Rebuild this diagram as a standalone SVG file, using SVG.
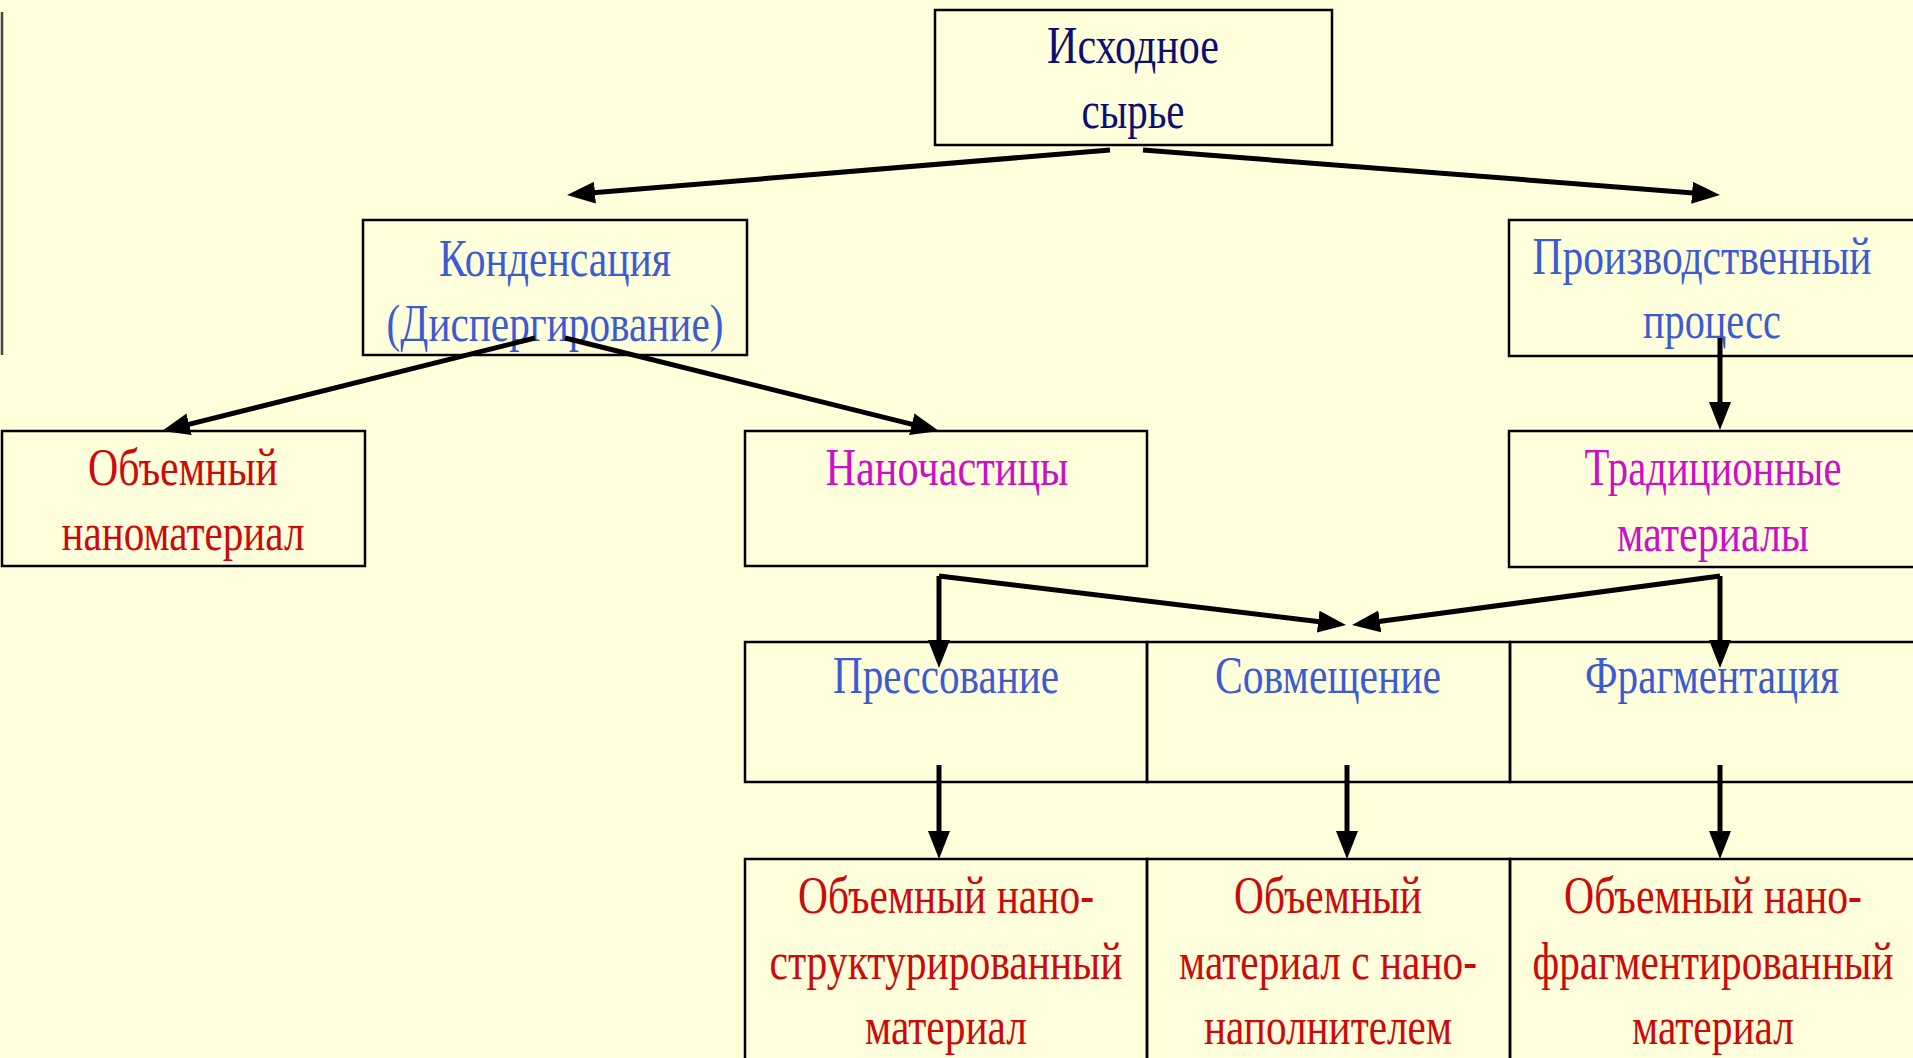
<svg xmlns="http://www.w3.org/2000/svg" width="1913" height="1058" viewBox="0 0 1913 1058">
<style>
.box{fill:none;stroke:#000;stroke-width:2.5}
.t{font-family:"Liberation Serif","Times New Roman",serif;font-size:52px;text-anchor:middle}
.navy{fill:#0d0d72}
.blue{fill:#3d5bd0}
.mag{fill:#cc10c8}
.red{fill:#cc0a0a}
.c{fill:none;stroke:#000;stroke-width:5}
</style>
<defs>
<marker id="ah" markerUnits="userSpaceOnUse" markerWidth="30" markerHeight="24" refX="14" refY="12" orient="auto">
<path d="M0,1 L28,12 L0,23 z" fill="#000"/>
</marker>
</defs>
<rect width="1913" height="1058" fill="#FFFFDC"/>
<line x1="2" y1="12" x2="2" y2="355" stroke="#444" stroke-width="2.5"/>

<g id="n-source">
<rect class="box" x="935" y="10" width="397" height="135"/>
<text class="t navy" x="1133" y="63" textLength="172" lengthAdjust="spacingAndGlyphs">Исходное</text>
<text class="t navy" x="1133" y="128" textLength="103" lengthAdjust="spacingAndGlyphs">сырье</text>
</g>
<g id="n-condensation">
<rect class="box" x="363" y="220" width="384" height="135"/>
<text class="t blue" x="555" y="276" textLength="232" lengthAdjust="spacingAndGlyphs">Конденсация</text>
<text class="t blue" x="555" y="341" textLength="337" lengthAdjust="spacingAndGlyphs">(Диспергирование)</text>
</g>
<g id="n-production">
<rect class="box" x="1509" y="220" width="420" height="136"/>
<text class="t blue" x="1702" y="274" textLength="339" lengthAdjust="spacingAndGlyphs">Производственный</text>
<text class="t blue" x="1712" y="338" textLength="138" lengthAdjust="spacingAndGlyphs">процесс</text>
</g>
<g id="n-bulk">
<rect class="box" x="2" y="431" width="363" height="135"/>
<text class="t red" x="183" y="485" textLength="190" lengthAdjust="spacingAndGlyphs">Объемный</text>
<text class="t red" x="183" y="550" textLength="243" lengthAdjust="spacingAndGlyphs">наноматериал</text>
</g>
<g id="n-nanoparticles">
<rect class="box" x="745" y="431" width="402" height="135"/>
<text class="t mag" x="947" y="485" textLength="243" lengthAdjust="spacingAndGlyphs">Наночастицы</text>
</g>
<g id="n-traditional">
<rect class="box" x="1509" y="431" width="420" height="136"/>
<text class="t mag" x="1713" y="485" textLength="257" lengthAdjust="spacingAndGlyphs">Традиционные</text>
<text class="t mag" x="1713" y="551" textLength="192" lengthAdjust="spacingAndGlyphs">материалы</text>
</g>
<g id="n-pressing">
<rect class="box" x="745" y="642" width="402" height="140"/>
<text class="t blue" x="946" y="693" textLength="226" lengthAdjust="spacingAndGlyphs">Прессование</text>
</g>
<g id="n-combining">
<rect class="box" x="1147" y="642" width="363" height="140"/>
<text class="t blue" x="1328" y="693" textLength="226" lengthAdjust="spacingAndGlyphs">Совмещение</text>
</g>
<g id="n-fragmentation">
<rect class="box" x="1510" y="642" width="420" height="140"/>
<text class="t blue" x="1712" y="693" textLength="254" lengthAdjust="spacingAndGlyphs">Фрагментация</text>
</g>
<g id="n-nanostructured">
<rect class="box" x="745" y="859" width="402" height="220"/>
<text class="t red" x="946" y="913" textLength="296" lengthAdjust="spacingAndGlyphs">Объемный нано-</text>
<text class="t red" x="946" y="979" textLength="353" lengthAdjust="spacingAndGlyphs">структурированный</text>
<text class="t red" x="946" y="1044" textLength="162" lengthAdjust="spacingAndGlyphs">материал</text>
</g>
<g id="n-nanofilled">
<rect class="box" x="1147" y="859" width="363" height="220"/>
<text class="t red" x="1328" y="913" textLength="188" lengthAdjust="spacingAndGlyphs">Объемный</text>
<text class="t red" x="1328" y="979" textLength="298" lengthAdjust="spacingAndGlyphs">материал с нано-</text>
<text class="t red" x="1328" y="1044" textLength="248" lengthAdjust="spacingAndGlyphs">наполнителем</text>
</g>
<g id="n-nanofragmented">
<rect class="box" x="1510" y="859" width="420" height="220"/>
<text class="t red" x="1713" y="913" textLength="298" lengthAdjust="spacingAndGlyphs">Объемный нано-</text>
<text class="t red" x="1713" y="979" textLength="361" lengthAdjust="spacingAndGlyphs">фрагментированный</text>
<text class="t red" x="1713" y="1044" textLength="162" lengthAdjust="spacingAndGlyphs">материал</text>
</g>

<g id="connectors">
<path class="c" d="M1110,150 L581,193.8" marker-end="url(#ah)"/>
<path class="c" d="M1143,150 L1706,193.9" marker-end="url(#ah)"/>
<path class="c" d="M535,338 L175.6,427.6" marker-end="url(#ah)"/>
<path class="c" d="M565,338 L925.4,427.6" marker-end="url(#ah)"/>
<path class="c" d="M1720,338 L1720,416" marker-end="url(#ah)"/>
<path class="c" d="M939,576 L939,654" marker-end="url(#ah)"/>
<path class="c" d="M939,576 L1332.1,623.3" marker-end="url(#ah)"/>
<path class="c" d="M1720,576 L1720,654" marker-end="url(#ah)"/>
<path class="c" d="M1720,576 L1365.9,623.2" marker-end="url(#ah)"/>
<path class="c" d="M939,765 L939,845" marker-end="url(#ah)"/>
<path class="c" d="M1347,765 L1347,845" marker-end="url(#ah)"/>
<path class="c" d="M1720,765 L1720,845" marker-end="url(#ah)"/>
</g>
</svg>
